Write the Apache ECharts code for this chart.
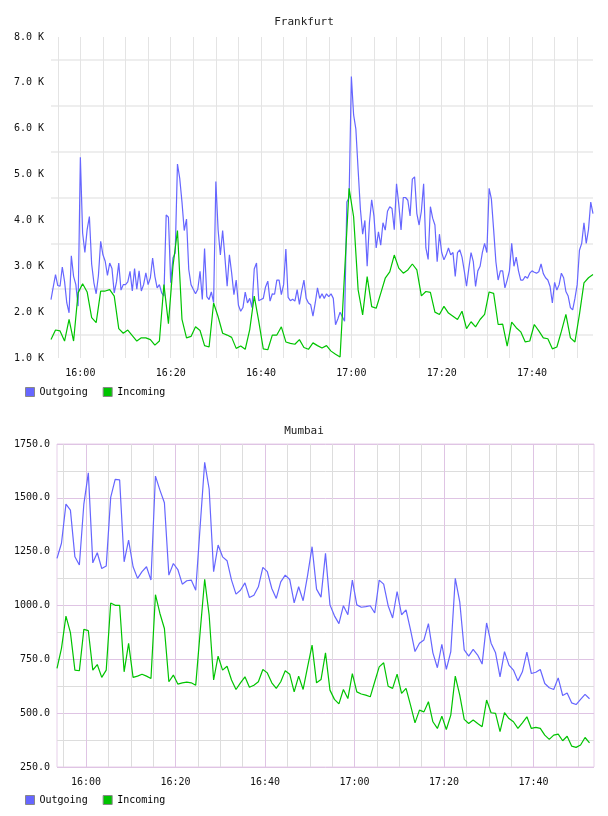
<!DOCTYPE html>
<html>
<head>
<meta charset="utf-8">
<script src="https://cdn.jsdelivr.net/npm/echarts@6/dist/echarts.min.js"></script>
<style>
  html, body { margin: 0; padding: 0; background: #fff; }
  .chart { width: 608px; height: 408px; }
</style>
</head>
<body>
<div id="frankfurt" class="chart"></div>
<div id="mumbai" class="chart"></div>
<script>
// samples: 30 s steps from 15:53:30 to 17:53:30
var startSeconds = 15 * 3600 + 53 * 60 + 30;
var stepSeconds = 30;
var sampleCount = 241;

var frankfurtOut = [
  2275, 2550, 2820, 2580, 2565, 2985, 2670, 2200, 1985, 3230,
  2780, 2600, 2130, 5375, 3725, 3300, 3800, 4085, 3050, 2640,
  2400, 2800, 3545, 3250, 3110, 2800, 3070, 2950, 2420, 2660,
  3070, 2480, 2600, 2600, 2660, 2890, 2460, 2950, 2500, 2900,
  2460, 2600, 2855, 2600, 2750, 3180, 2780, 2530, 2600, 2420,
  2350, 4120, 4070, 2640, 3180, 3290, 5230, 4920, 4400, 3780,
  4030, 2930, 2600, 2500, 2400, 2500, 2890, 2275, 3385, 2340,
  2275, 2440, 2210, 4850, 3790, 3250, 3780, 3200, 2565, 3250,
  2850, 2380, 2700, 2150, 2020, 2100, 2435, 2200, 2300, 2100,
  2940, 3070, 2250, 2275, 2300, 2550, 2675, 2240, 2400, 2390,
  2700, 2700, 2380, 2600, 3375, 2320, 2250, 2280, 2240, 2490,
  2170, 2460, 2700, 2300, 2200, 2160, 1915, 2200, 2530, 2300,
  2400, 2300, 2400, 2340, 2400, 2300, 1725, 1850, 2000, 1900,
  1800, 4400, 4500, 7140, 6300, 5990, 5100, 4250, 3700, 4000,
  3000, 3950, 4450, 4100, 3400, 3750, 3460, 3950, 3790, 4200,
  4300, 4260, 3800, 4800, 4350, 3790, 4500, 4500, 4440, 4100,
  4900, 4950, 4150, 3900, 4200, 4800, 3400, 3150, 4300, 4050,
  3900, 3100, 3700, 3300, 3140, 3250, 3400, 3250, 3300, 2780,
  3300, 3360, 3200, 2900, 2565, 2950, 3300, 3100, 2560, 2900,
  3000, 3300, 3500, 3300, 4700, 4470, 3800, 3100, 2700, 2900,
  2900, 2530, 2700, 2900, 3500, 3000, 3200, 2900, 2700, 2700,
  2780, 2740, 2850, 2900, 2870, 2850, 2880, 3050, 2840, 2750,
  2700, 2560, 2200, 2650, 2480, 2600, 2850, 2750, 2450, 2350,
  2100, 2050, 2300, 2600, 3350, 3500, 3950, 3500, 3800, 4400,
  4150
];

// one value per minute
var frankfurtIn = [
  1405, 1610, 1590, 1370, 1840, 1370, 2420, 2620, 2440, 1880,
  1770, 2460, 2460, 2490, 2350, 1640, 1540, 1610, 1490, 1370,
  1440, 1440, 1400, 1280, 1370, 2600, 1750, 3000, 3780, 1840,
  1440, 1470, 1680, 1600, 1270, 1240, 2200, 1900, 1540, 1500,
  1450, 1210, 1260, 1190, 1620, 2350, 1800, 1200, 1180, 1500,
  1500, 1680, 1350, 1320, 1300, 1400, 1230, 1190, 1330, 1270,
  1220, 1270, 1150, 1080, 1020, 2860, 4700, 4080, 2485, 1940,
  2775, 2120, 2085, 2410, 2740, 2880, 3245, 2960, 2850, 2920,
  3050, 2920, 2355, 2450, 2430, 2000, 1950, 2125, 1980, 1910,
  1840, 2020, 1640, 1790, 1680, 1840, 1950, 2440, 2410, 1730,
  1740, 1260, 1780, 1660, 1570, 1350, 1370, 1730, 1590, 1440,
  1420, 1200, 1240, 1580, 1950, 1440, 1350, 1950, 2640, 2750,
  2820
];

var mumbaiOut = [
  1219, 1289, 1471, 1443, 1226, 1188, 1471, 1616, 1198, 1245,
  1172, 1183, 1502, 1586, 1583, 1203, 1304, 1180, 1126, 1157,
  1180, 1118, 1601, 1536, 1477, 1141, 1195, 1167, 1099, 1115,
  1118, 1071, 1370, 1665, 1541, 1157, 1281, 1226, 1208, 1118,
  1053, 1071, 1105, 1037, 1048, 1087, 1177, 1157, 1079, 1033,
  1110, 1141, 1121, 1012, 1087, 1022, 1140, 1273, 1076, 1039,
  1242, 1003, 952, 916, 999, 957, 1118, 1003, 992, 995,
  999, 965, 1118, 1099, 999, 942, 1065, 957, 980, 887,
  786, 825, 840, 916, 780, 711, 820, 703, 786, 1126,
  1017, 794, 765, 796, 770, 728, 919, 825, 780, 669,
  786, 723, 700, 650, 692, 783, 684, 690, 703, 638,
  618, 610, 664, 582, 594, 548, 540, 564, 587, 567
];

var mumbaiIn = [
  708, 801, 951, 874, 700, 697, 889, 883, 700, 726,
  666, 700, 1012, 1001, 1001, 692, 824, 666, 672, 681,
  672, 661, 1050, 963, 893, 646, 677, 635, 641, 644,
  641, 630, 880, 1122, 955, 654, 765, 700, 718, 654,
  610, 641, 669, 620, 630, 646, 703, 687, 641, 615,
  646, 697, 681, 599, 672, 610, 715, 816, 641, 656,
  780, 607, 564, 543, 610, 568, 684, 599, 589, 584,
  576, 646, 715, 734, 625, 615, 681, 592, 615, 537,
  455, 514, 506, 553, 460, 429, 486, 424, 491, 672,
  584, 471, 452, 468, 452, 437, 561, 502, 499, 414,
  502, 475, 460, 429, 455, 483, 429, 434, 429, 398,
  378, 398, 403, 372, 393, 347, 341, 352, 387, 362
];

var seriesNames = ['Outgoing', 'Incoming'];
var colorOut = '#6666ff';
var colorIn = '#00c400';
var fontMono = 'DejaVu Sans Mono';

function pad(n) { return (n < 10 ? '0' : '') + n; }
var times = [];
for (var i = 0; i < sampleCount; i++) {
  var t = startSeconds + i * stepSeconds;
  times.push(pad(Math.floor(t / 3600)) + ':' + pad(Math.floor(t / 60) % 60) + ':' + pad(t % 60));
}
// per-minute values sit on every second sample
function perMinute(values) {
  return values.map(function(v, k) { return [k * 2, v]; });
}
function isLabelTime(index, value) { return /:[024]0:00$/.test(value); }
function isGridTime(index, value) { return /:[0-5][05]:00$/.test(value); }

function lineSeries(name, color, data) {
  return {
    name: name,
    type: 'line',
    data: data,
    symbol: 'none',
    animation: false,
    lineStyle: { color: color, width: 1.2 },
    itemStyle: { color: color }
  };
}

function legendBox() {
  return {
    left: 25,
    top: 387,
    padding: 0,
    icon: 'rect',
    itemWidth: 9,
    itemHeight: 9,
    itemGap: 15,
    itemStyle: { borderColor: '#888', borderWidth: 1 },
    textStyle: { fontFamily: fontMono, fontSize: 10, color: '#000' },
    data: seriesNames
  };
}

// Frankfurt
(function() {
  var myChart = echarts.init(document.getElementById('frankfurt'));
  var option = {
    animation: false,
    title: {
      text: 'Frankfurt',
      left: 'center',
      top: 12,
      textStyle: { fontFamily: fontMono, fontSize: 11, fontWeight: 'normal', color: '#222' }
    },
    legend: legendBox(),
    grid: { left: 51, right: 15, top: 37, height: 321 },
    xAxis: {
      type: 'category',
      data: times,
      boundaryGap: false,
      axisLine: { show: false },
      axisTick: { show: false },
      axisLabel: {
        interval: isLabelTime,
        formatter: function(v) { return v.slice(0, 5); },
        fontFamily: fontMono, fontSize: 10, color: '#111', margin: 10
      },
      splitLine: { show: true, interval: isGridTime, lineStyle: { color: '#e4e4e4', width: 1 } }
    },
    yAxis: {
      type: 'value',
      min: 1000,
      max: 8000,
      interval: 1000,
      axisLine: { show: false },
      axisTick: { show: false },
      axisLabel: {
        formatter: function(v) { return (v / 1000).toFixed(1) + ' K'; },
        fontFamily: fontMono, fontSize: 10, color: '#111', margin: 7
      },
      splitLine: { show: false },
      minorTick: { show: false, splitNumber: 2 },
      minorSplitLine: { show: true, lineStyle: { color: '#eeeeee', width: 2 } }
    },
    series: [
      lineSeries('Outgoing', colorOut, frankfurtOut),
      lineSeries('Incoming', colorIn, perMinute(frankfurtIn))
    ]
  };
  option && myChart.setOption(option);
})();

// Mumbai
(function() {
  var myChart = echarts.init(document.getElementById('mumbai'));
  var option = {
    animation: false,
    title: {
      text: 'Mumbai',
      left: 'center',
      top: 13,
      textStyle: { fontFamily: fontMono, fontSize: 11, fontWeight: 'normal', color: '#222' }
    },
    legend: legendBox(),
    grid: {
      left: 57, right: 14, top: 36, height: 323,
      show: true, borderColor: '#e6cfe9', borderWidth: 1, backgroundColor: 'transparent'
    },
    xAxis: [
      {
        type: 'category',
        data: times,
        boundaryGap: false,
        axisLine: { show: false },
        axisTick: { show: false },
        axisLabel: {
          interval: isLabelTime,
          formatter: function(v) { return v.slice(0, 5); },
          fontFamily: fontMono, fontSize: 10, color: '#111', margin: 10
        },
        splitLine: { show: true, interval: isGridTime, lineStyle: { color: '#dddddd', width: 1 } }
      },
      {
        type: 'category',
        data: times,
        boundaryGap: false,
        position: 'top',
        axisLine: { show: false },
        axisTick: { show: false },
        axisLabel: { show: false },
        splitLine: { show: true, interval: isLabelTime, lineStyle: { color: '#dfc4e4', width: 1 } }
      }
    ],
    yAxis: {
      type: 'value',
      min: 250,
      max: 1750,
      interval: 250,
      axisLine: { show: false },
      axisTick: { show: false },
      axisLabel: {
        formatter: function(v) { return v.toFixed(1); },
        fontFamily: fontMono, fontSize: 10, color: '#111', margin: 7
      },
      splitLine: { show: true, lineStyle: { color: '#dfc4e4', width: 1 } },
      minorTick: { show: false, splitNumber: 2 },
      minorSplitLine: { show: true, lineStyle: { color: '#dddddd', width: 1 } }
    },
    series: [
      lineSeries('Outgoing', colorOut, perMinute(mumbaiOut)),
      lineSeries('Incoming', colorIn, perMinute(mumbaiIn))
    ]
  };
  option && myChart.setOption(option);
})();
</script>
</body>
</html>
